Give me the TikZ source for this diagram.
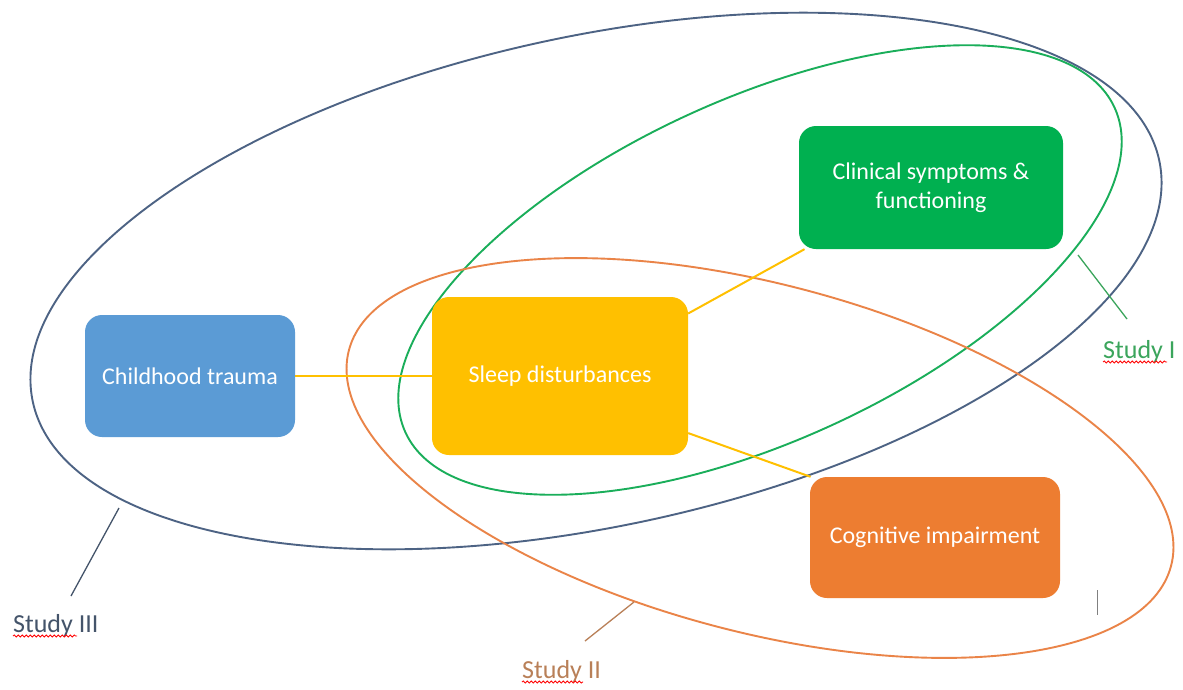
\documentclass[tikz,border=0pt]{standalone}
\usepackage{fontspec}
\setmainfont{Carlito}
\usetikzlibrary{decorations.pathmorphing}
\definecolor{cblue}{HTML}{5B9BD5}
\definecolor{cyellow}{HTML}{FFC000}
\definecolor{cgreen}{HTML}{00B050}
\definecolor{corange}{HTML}{ED7D31}
\definecolor{eblue}{HTML}{4D6384}
\definecolor{egreen}{HTML}{1AAE5A}
\definecolor{eorange}{HTML}{EA8448}
\definecolor{lblue}{HTML}{44546A}
\definecolor{lgreen}{HTML}{3BA55C}
\definecolor{lorange}{HTML}{B98058}
\begin{document}
\begin{tikzpicture}[x=1pt,y=-1pt,
  box/.style={rounded corners=17pt, inner sep=0pt, text=white,
    font=\fontsize{24}{29}\selectfont, align=center},
  ring/.style={line width=1.9pt},
  link/.style={draw=cyellow, line width=2pt},
  leader/.style={line width=1.3pt},
  studylabel/.style={anchor=base west, inner sep=0pt, font=\fontsize{26}{30}\selectfont},
  squiggle/.style={draw=red, line width=0.8pt, decorate,
    decoration={snake, amplitude=1.1pt, segment length=4pt}}]
\useasboundingbox (0,0) rectangle (1183,689);
\fill[white] (0,0) rectangle (1183,689);

% ellipses
\draw[ring, eblue, rotate around={12.1:(596,281)}] (596,281) ellipse [x radius=576, y radius=245];
\draw[ring, egreen, rotate around={24.6:(760,270)}] (760,270) ellipse [x radius=390, y radius=171];
\draw[ring, eorange, rotate around={-14.7:(760,458)}] (760,458) ellipse [x radius=425, y radius=174];

% boxes
\node[box, fill=cblue, minimum width=210pt, minimum height=122pt] (trauma) at (190,376) {Childhood trauma};
\node[box, fill=cyellow, minimum width=256pt, minimum height=158pt] (sleep) at (560,376) {Sleep disturbances};
\node[box, fill=cgreen, minimum width=264pt, minimum height=123pt] (clin) at (931,187.5) {Clinical symptoms \&\\functioning};
\node[box, fill=corange, minimum width=250pt, minimum height=121pt] (cog) at (935,537.5) {Cognitive impairment};

% connectors
\draw[link] (trauma.east) -- (sleep.west);
\draw[link] (sleep.26.6) -- (clin.206.6);
\draw[link] (sleep.336.4) -- (cog.154);

% labels
\node[studylabel, text=lblue] (s3) at (13,632) {Study III};
\node[studylabel, text=lorange] (s2) at (522,678) {Study II};
\node[studylabel, text=lgreen] (s1) at (1103,358) {Study I};

% leader lines
\coordinate (e3) at (119,508);
\coordinate (t3) at (71,596);
\coordinate (e2) at (634,602);
\coordinate (t2) at (585,641);
\coordinate (e1) at (1078,255);
\coordinate (t1) at (1127,319);
\draw[leader, lblue] (e3) -- (t3);
\draw[leader, lorange] (e2) -- (t2);
\draw[leader, lgreen] (e1) -- (t1);

% spell-check squiggles
\draw[squiggle] (13,636) -- (77,636);
\draw[squiggle] (522,682) -- (583,682);
\draw[squiggle] (1103,362) -- (1167,362);

% cursor mark
\draw[gray, line width=1pt] (1097,590) -- (1097,615);
\end{tikzpicture}
\end{document}
